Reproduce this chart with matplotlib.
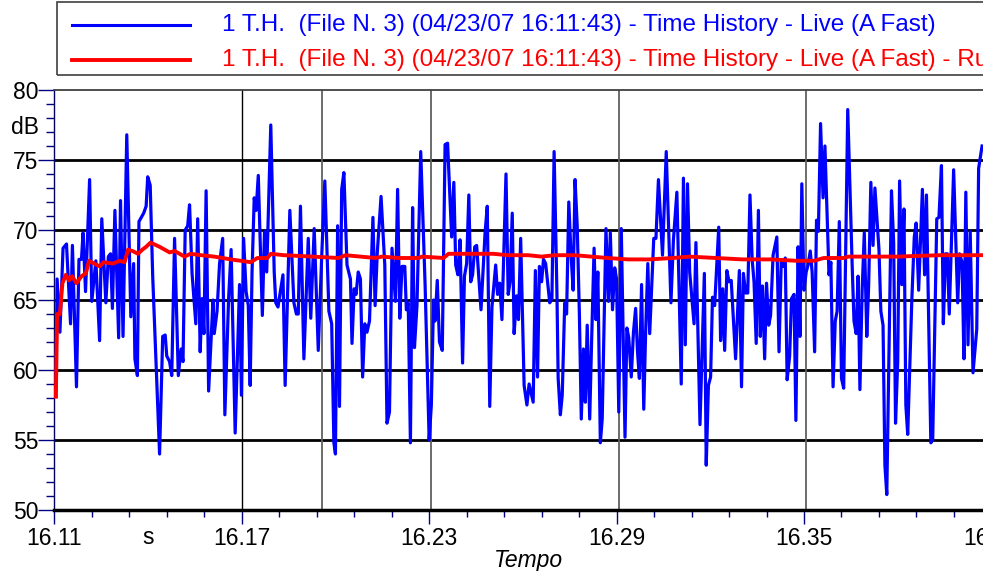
import numpy as np
import matplotlib
matplotlib.use("Agg")
import matplotlib.pyplot as plt
from matplotlib.lines import Line2D
from matplotlib.patches import Rectangle
from matplotlib.ticker import FixedLocator

plt.rcParams['font.family'] = ['Liberation Sans', 'DejaVu Sans']

# time offsets from the first sample (thousandths of axis unit) and levels in dB
live_off = [0, 0.4, 1.3, 2.3, 3.4, 4.7, 5.3, 6.6, 7.4, 8.2, 8.7, 9.5, 10.8, 11.5, 12.8, 14.0, 14.7, 16.0, 16.8, 17.5, 18.1, 18.9, 20.1, 20.7, 21.5, 22.7, 24.0, 24.9, 25.3, 26.1, 26.6, 28.1, 28.9, 29.4, 30.2, 31.0, 33.2, 34.2, 35.0, 35.5, 36.4,
            37.1, 38.0, 39.2, 40.1, 40.7, 41.4, 42.2, 42.8, 43.6, 44.8, 45.4, 46.2, 46.8, 47.4, 48.1, 48.9, 50.3, 50.7, 51.6, 52.4, 53.4, 54.1, 55.3, 56.1, 57.4, 58.8, 59.4, 60.1, 60.9, 61.6, 62.2, 62.8, 63.5, 64.1, 64.8, 65.4, 66.1, 66.8, 67.5, 68.8, 69.9, 70.4, 71.1,
            72.7, 73.4, 74.9, 76.2, 77.0, 77.6, 78.3, 79.4, 80.8, 81.6, 82.7, 84.0, 85.1, 86.1, 87.4, 88.3, 89.0, 89.5, 90.2, 90.8, 91.5, 92.2, 93.2, 94.3, 94.8, 95.5, 96.1, 96.8, 97.5, 98.2, 98.9, 99.6, 100.4, 101.5, 102.2, 102.9, 104.1, 105.3, 106.0, 106.8, 107.6, 108.7,
            109.4, 110.1, 110.8, 111.7, 112.2, 112.8, 113.5, 114.2, 114.8, 115.6, 116.8, 118.2, 119.5, 120.2, 120.9, 121.4, 122.1, 122.8, 123.7, 124.6, 125.4, 126.7, 127.4, 128.0, 128.7, 129.4, 130.2, 130.8, 131.5, 132.2, 132.8, 133.4, 134.1, 134.7, 136.1, 137.4, 138.1, 138.9, 139.6, 140.8, 141.4, 142.1, 142.8, 144.1, 144.8,
            145.4, 146.1, 146.7, 147.5, 148.1, 148.8, 149.9, 150.8, 151.5, 152.8, 153.5, 154.2, 154.8, 155.5, 156.1, 156.8, 158.1, 158.8, 159.5, 160.4, 160.8, 161.5, 162.1, 162.9, 163.5, 164.2, 164.9, 165.6, 166.2, 166.9, 167.6, 168.2, 168.9, 169.5, 170.1, 170.9, 171.5, 172.3, 172.9, 173.5, 174.3, 174.9, 176.1, 176.9, 177.5, 178.2, 178.9, 179.5, 180.2, 181.0, 182.2,
            182.8, 183.4, 184.2, 184.9, 185.6, 186.2, 186.8, 187.5, 188.2, 188.8, 189.5, 190.1, 191.4, 192.1, 192.9, 194.2, 195.4, 196.9, 197.7, 198.8, 200.2, 200.9, 201.5, 202.2, 202.9, 204.3, 204.9, 206.2, 207.6, 208.2, 208.9, 209.6, 210.2, 210.9, 212.2, 212.8, 213.5, 214.1, 214.8, 215.5, 216.2, 217.6, 218.8,
            219.5, 220.1, 220.8, 221.5, 222.2, 222.9, 223.5, 224.2, 224.9, 225.5, 226.2, 226.9, 227.5, 228.2, 228.8, 229.6, 230.8, 231.5, 232.2, 232.9, 233.5, 234.1, 234.9, 235.5, 236.3, 236.9, 237.6, 238.2, 238.8, 239.5, 240.2, 240.8, 241.5, 242.1, 242.9, 243.5, 244.1, 244.8, 245.6, 246.2, 247.5, 248.1, 248.8, 249.5, 250.1, 250.8, 251.5, 252.2, 253.5, 254.9, 255.5, 256.2,
            256.8, 257.4, 258.1, 258.8, 259.6, 260.2, 260.9, 261.6, 262.2, 263.5, 264.1, 264.8, 265.4, 266.0, 267.5, 268.2, 268.8, 269.5, 270.1, 270.8, 271.5, 272.1, 272.7, 274.0, 274.8, 275.4, 276.2, 277.4, 278.1, 278.7, 280.1, 280.7, 282.0, 282.7, 283.5, 284.1, 284.8, 285.4, 286.0, 287.4, 288.7, 289.3, 290.1, 290.7, 291.3, 292.0, 292.7, 293.6, 294.8, 295.4, 296.5]

live_db = [58.1, 66.5, 62.7, 68.7, 69.0, 63.3, 68.9, 58.8, 67.9, 67.9, 69.8, 65.6, 73.6, 64.9, 67.8, 62.1, 70.8, 64.8, 68.1, 68.3, 64.4, 71.4, 62.3, 72.1, 62.4, 76.8, 63.8, 67.6, 60.8, 59.6, 70.6, 71.2, 71.7, 73.8, 73.2, 66.7, 54.0, 62.4, 62.5, 61.0, 60.6,
           59.6, 69.4, 59.6, 61.5, 60.6, 70.0, 70.3, 71.8, 66.9, 63.3, 70.8, 61.3, 65.1, 62.6, 72.8, 58.5, 65.0, 62.6, 64.2, 67.6, 69.4, 56.8, 65.1, 68.6, 55.5, 66.1, 58.2, 69.4, 65.6, 64.6, 58.9, 67.0, 72.3, 71.4, 73.9, 69.4, 63.9, 69.9, 67.0, 77.5, 67.0, 64.8, 64.5,
           66.8, 58.9, 71.4, 64.8, 64.0, 64.0, 71.7, 60.8, 69.4, 63.7, 70.1, 61.4, 68.1, 73.5, 64.2, 63.3, 54.8, 54.0, 70.3, 57.4, 72.9, 74.1, 67.5, 66.5, 61.9, 65.8, 65.4, 67.0, 66.5, 59.5, 63.3, 62.7, 63.5, 70.9, 64.6, 68.4, 72.4, 67.5, 56.2, 57.0, 68.7, 64.9,
           72.9, 63.7, 67.4, 67.4, 64.3, 64.8, 54.8, 71.6, 61.6, 64.6, 75.6, 66.1, 55.0, 57.5, 65.0, 63.5, 66.4, 62.0, 61.4, 76.1, 76.2, 69.5, 73.4, 67.5, 66.8, 69.3, 60.5, 66.7, 67.6, 72.5, 66.3, 66.8, 68.8, 68.9, 64.3, 69.8, 71.7, 57.4, 64.5, 67.5, 65.4, 66.2, 63.6, 74.0, 65.4,
           66.3, 71.2, 62.6, 65.3, 63.6, 69.4, 58.9, 57.5, 59.0, 57.7, 67.1, 59.5, 67.4, 66.3, 67.9, 67.6, 64.8, 65.1, 75.6, 65.6, 59.4, 56.8, 58.2, 64.8, 64.0, 72.0, 68.3, 65.7, 73.6, 70.3, 63.9, 56.5, 61.5, 57.7, 63.2, 56.5, 62.0, 68.7, 63.6, 67.0, 54.8, 56.5, 70.1, 64.9, 69.8, 64.3, 67.3, 66.5, 57.0, 70.1, 55.2,
           63.0, 62.3, 59.5, 62.7, 64.4, 61.3, 59.4, 66.1, 57.2, 62.7, 67.6, 62.6, 69.4, 69.4, 73.6, 68.2, 75.6, 64.8, 69.3, 72.7, 59.0, 73.7, 61.8, 73.3, 67.0, 63.3, 69.1, 56.1, 66.9, 53.2, 58.9, 59.5, 65.2, 64.6, 70.2, 62.1, 65.8, 61.4, 67.1, 66.3, 66.4, 60.8, 67.1,
           58.8, 66.9, 65.5, 65.5, 72.5, 67.9, 66.3, 61.9, 71.4, 62.4, 66.0, 60.8, 66.2, 63.2, 63.9, 68.2, 69.5, 61.3, 67.7, 67.4, 68.0, 59.3, 61.0, 65.1, 65.4, 56.4, 68.8, 62.4, 73.3, 65.7, 67.0, 67.5, 68.5, 67.0, 61.3, 70.7, 69.9, 77.6, 72.3, 76.0, 66.8, 67.7, 58.8, 63.5, 64.2, 70.6, 59.4, 58.7, 78.6, 67.6, 63.5, 62.6,
           66.7, 58.6, 65.6, 69.8, 62.4, 66.1, 73.4, 68.9, 73.0, 68.6, 64.2, 63.2, 53.2, 51.1, 72.8, 69.1, 56.2, 60.6, 73.5, 66.1, 71.5, 57.5, 55.4, 64.9, 69.5, 70.5, 65.7, 72.9, 66.8, 72.5, 54.8, 55.0, 70.8, 70.9, 74.6, 63.3, 68.3, 68.3, 64.0, 74.3, 64.8, 68.3, 67.7, 60.8, 72.7, 61.8, 69.9, 59.8, 62.9, 74.4, 76.0]

leq_off = [0, 0.4, 1.3, 2.1, 3.2, 4.2, 5.2, 6.6, 8.2, 9.6, 10.6, 14.0, 15.3, 18.3, 20.4, 22.0, 23.1, 24.5, 26.3, 27.7,
           28.9, 30.3, 33.2, 36.4, 38.0, 41.2, 43.1, 46.5, 50.7, 56.0, 62.4, 64.5, 67.7, 68.8, 73.1, 82.1, 90.6, 92.7, 102.3, 104.4,
           109.7, 116.1, 117.2, 124.1, 125.7, 140.0, 144.8, 151.2, 155.5, 159.7, 166.1, 176.7, 183.1, 190.0, 197.5, 202.8, 219.8, 228.8, 237.3, 242.7,
           245.8, 252.2, 253.8, 258.1, 269.2, 283.0, 296.5]
leq_db = [58.1, 64.0, 64.0, 66.2, 66.8, 66.4, 66.7, 66.2, 66.7, 66.9, 67.8, 67.4, 67.7, 67.6, 67.8, 67.7, 68.6, 68.5, 68.3, 68.6,
          68.8, 69.1, 68.8, 68.4, 68.5, 68.1, 68.3, 68.2, 68.1, 67.9, 67.7, 68.0, 68.0, 68.3, 68.2, 68.1, 68.0, 68.2, 68.0, 68.1,
          68.0, 68.0, 68.1, 68.0, 68.3, 68.3, 68.2, 68.2, 68.1, 68.2, 68.2, 68.0, 67.9, 67.9, 68.0, 68.1, 67.9, 67.9, 67.8, 67.8,
          68.0, 68.0, 68.1, 68.1, 68.1, 68.2, 68.2]

t_first = 16.1105
t_start = 16.11
t_end = 16.4073
x_ticks = [16.11, 16.17, 16.23, 16.29, 16.35]
x_tick_labels = ['16.11', '16.17', '16.23', '16.29', '16.35']
x_cut_tick = 16.41
y_ticks = [50, 55, 60, 65, 70, 75, 80]
cursor_times = [16.17, 16.1957, 16.2305, 16.2908, 16.3506]
legend_labels = ['1 T.H.  (File N. 3) (04/23/07 16:11:43) - Time History - Live (A Fast)',
                 '1 T.H.  (File N. 3) (04/23/07 16:11:43) - Time History - Live (A Fast) - Running Leq']

live_t = t_first + np.array(live_off) / 1000.0
leq_t = t_first + np.array(leq_off) / 1000.0

W, H = 983, 571
FS = 16.5
fig = plt.figure(figsize=(W / 100, H / 100), dpi=100)
ax = fig.add_axes([54.3 / W, 1 - 510 / H, 1 - 54.3 / W, (510 - 90) / H])

ax.set_xlim(t_start, t_end)
ax.set_ylim(50, 80)

for y in [55, 60, 65, 70, 75]:
    ax.axhline(y, color='black', lw=2.0, zorder=1)
for i, c in enumerate(cursor_times):
    ax.axvline(c, color='black' if i == 0 else '#606060', lw=1.0 if i == 0 else 1.3, zorder=1)

ax.plot(live_t, live_db, color='#0000ff', lw=2.3, zorder=3)
ax.plot(leq_t, leq_db, color='#ff0000', lw=2.8, zorder=4)

ax.spines['right'].set_visible(False)
ax.spines['top'].set_color('#404040')
ax.spines['top'].set_linewidth(1.3)
ax.spines['bottom'].set_color('black')
ax.spines['bottom'].set_linewidth(2.5)
ax.spines['left'].set_color('#000060')
ax.spines['left'].set_linewidth(1.0)

ax.xaxis.set_major_locator(FixedLocator(x_ticks))
ax.set_xticklabels(x_tick_labels)
ax.xaxis.set_minor_locator(FixedLocator([t_start + 0.012 * k for k in range(25)]))
ax.yaxis.set_major_locator(FixedLocator(y_ticks))
ax.yaxis.set_minor_locator(FixedLocator(list(range(50, 81))))

XL, XP = 10, 2
ax.tick_params(axis='x', which='major', direction='out', length=XL, width=1, color='#000080',
               labelsize=FS, pad=XP)
ax.tick_params(axis='x', which='minor', direction='out', length=5, width=1, color='#000080')
ax.tick_params(axis='y', which='major', direction='out', length=11.5, width=1, color='#000080',
               labelsize=FS, pad=0)
ax.tick_params(axis='y', which='minor', direction='out', length=5.8, width=1, color='#000080')

ax.annotate('16.41', xy=(x_cut_tick, 0), xycoords=('data', 'axes fraction'),
            xytext=(0, -(XL + XP)), textcoords='offset points', ha='center', va='top',
            fontsize=FS, annotation_clip=False)

fig.text(25 / W, 1 - 128 / H, 'dB', ha='center', va='center', fontsize=FS)
fig.text(148 / W, 1 - 538 / H, 's', ha='center', va='center', fontsize=FS)
fig.text(528 / W, 1 - 561 / H, 'Tempo', ha='center', va='center', fontsize=FS, style='italic')

# legend box
fig.patches.append(Rectangle((57 / W, 1 - 75 / H), 1.0, 73 / H, transform=fig.transFigure,
                             fill=False, ec='#404040', lw=1.2))
fig.lines.append(Line2D([72 / W, 190 / W], [1 - 25 / H, 1 - 25 / H], transform=fig.transFigure,
                        color='#0000ff', lw=2.2))
fig.lines.append(Line2D([72 / W, 190 / W], [1 - 60 / H, 1 - 60 / H], transform=fig.transFigure,
                        color='#ff0000', lw=2.8))
fig.text(222 / W, 1 - 25 / H, legend_labels[0], color='#0000ff', fontsize=17.5, ha='left', va='center')
fig.text(222 / W, 1 - 60 / H, legend_labels[1], color='#ff0000', fontsize=17.5, ha='left', va='center')

fig.savefig('out.png', dpi=100)
